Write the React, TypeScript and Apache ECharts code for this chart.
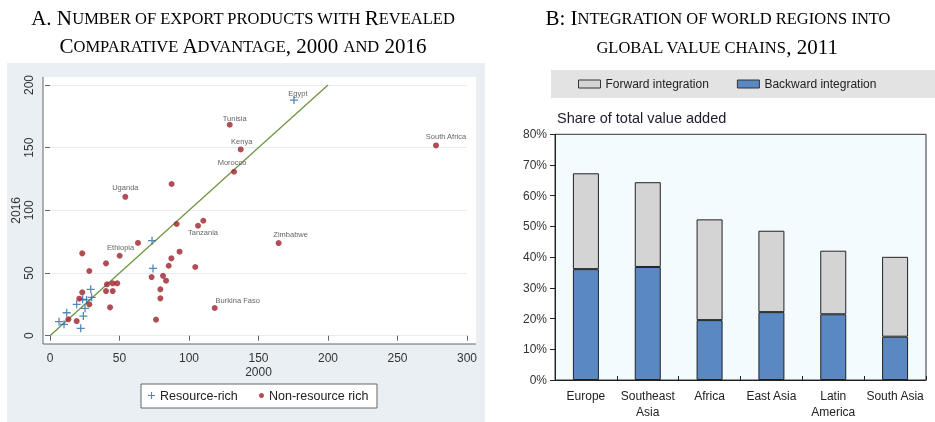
import React, { useEffect, useRef } from "react";
import * as echarts from "echarts";

// ---------- Panel A data: number of export products with RCA (x = 2000, y = 2016) ----------
const resourceRich: [number, number][] = [
  [73.4, 75.8], [74.1, 53.7], [29.3, 37], [30, 30.6], [23.5, 29], [26.3, 28.5],
  [19.2, 25], [25.2, 21.8], [24, 15.7], [12, 18.3], [6.5, 11.2], [10.1, 9.1], [22.1, 5.9],
];
const resourceRichNamed: { name: string; value: [number, number] }[] = [
  { name: "Egypt", value: [175.5, 188] },
];
const nonResourceRich: [number, number][] = [
  [87.5, 121], [91.1, 89.1], [110.3, 91.7], [63.3, 74], [23.2, 65.7], [40.3, 57.7],
  [28.3, 51.6], [93.2, 67], [87.3, 61.7], [85.4, 55.8], [104.5, 54.8], [73.1, 46.8],
  [81.3, 47.8], [83.5, 43.9], [79.4, 37], [79.4, 29.8], [76.3, 12.8], [41, 41],
  [45.1, 41.8], [48.4, 41.8], [40.3, 35.6], [45.1, 35.6], [43.2, 22.6], [23.2, 34.6],
  [21.1, 29.5], [28.3, 25], [19.2, 11.7], [13.2, 13.1],
];
const nonResourceRichNamed: { name: string; value: [number, number] }[] = [
  { name: "Tunisia", value: [129.3, 168.3] },
  { name: "Kenya", value: [137.2, 148.6] },
  { name: "Morocco", value: [132.4, 130.8] },
  { name: "Uganda", value: [54.2, 110.8] },
  { name: "South Africa", value: [277.7, 151.8] },
  { name: "Zimbabwe", value: [164.5, 73.9] },
  { name: "Ethiopia", value: [50.1, 63.8] },
  { name: "Tanzania", value: [106.5, 87.7] },
  { name: "Burkina Faso", value: [118.5, 22.1] },
];
const equalityLine: [number, number][] = [[0, 0], [200, 200]];

// ---------- Panel B data: integration into global value chains, 2011 (% of total value added) ----------
const regions = ["Europe", "Southeast\nAsia", "Africa", "East Asia", "Latin\nAmerica", "South Asia"];
const backwardIntegration = [36.1, 36.8, 19.5, 22.1, 21.4, 14.1];
const forwardIntegration = [31.2, 27.6, 32.8, 26.5, 20.7, 26.0];

// label placement (style only)
const labelPlacement: Record<string, { position: string; offset: [number, number] }> = {
  Egypt: { position: "top", offset: [4, 3.5] },
  Tunisia: { position: "top", offset: [5, 2.5] },
  Kenya: { position: "top", offset: [1, 1.5] },
  Morocco: { position: "top", offset: [-2, 0] },
  Uganda: { position: "top", offset: [0, 0] },
  "South Africa": { position: "top", offset: [10, 0] },
  Zimbabwe: { position: "top", offset: [12, 0] },
  Ethiopia: { position: "top", offset: [1, 1] },
  Tanzania: { position: "bottom", offset: [5, -2] },
  "Burkina Faso": { position: "top", offset: [23, 1.5] },
};

const SANS = "'Liberation Sans', Arial, sans-serif";
const SERIF = "'Liberation Serif', 'DejaVu Serif', serif";
const PLUS = "path://M4.2,0H5.8V4.2H10V5.8H5.8V10H4.2V5.8H0V4.2H4.2Z";
const RED = "#a0202b";
const BLUE = "#2b69a6";

function named(items: { name: string; value: [number, number] }[]) {
  return items.map((d) => ({
    name: d.name,
    value: d.value,
    label: {
      show: true,
      formatter: "{b}",
      position: labelPlacement[d.name]?.position ?? "top",
      offset: labelPlacement[d.name]?.offset ?? [0, 0],
      distance: 2,
      fontSize: 7.5,
      color: "#3a3a3a",
      fontFamily: SANS,
    },
  }));
}

const titleRich = {
  b: { fontFamily: SERIF, fontSize: 21, color: "#3a3a3a" },
  s: { fontFamily: SERIF, fontSize: 16.5, color: "#3a3a3a" },
};

export default function App() {
  const ref = useRef<HTMLDivElement>(null);
  useEffect(() => {
    if (!ref.current) return;
    const chart = echarts.init(ref.current, undefined, { renderer: "svg" });
    chart.setOption({
      animation: false,
      graphic: [
        { type: "rect", z: -10, shape: { x: 7, y: 63, width: 478, height: 359 }, style: { fill: "#e9eff3" } },
        { type: "rect", z: -9, shape: { x: 43, y: 77, width: 433, height: 267 }, style: { fill: "#ffffff" } },
        { type: "line", z: 5, shape: { x1: 43, y1: 77, x2: 43, y2: 344 }, style: { stroke: "#666", lineWidth: 1 } },
        { type: "line", z: 5, shape: { x1: 43, y1: 344, x2: 476, y2: 344 }, style: { stroke: "#666", lineWidth: 1 } },
        { type: "rect", z: 1, shape: { x: 141, y: 384, width: 236, height: 24 }, style: { fill: "#fff", stroke: "#666", lineWidth: 1 } },
        { type: "rect", z: -10, shape: { x: 551, y: 70, width: 384, height: 28 }, style: { fill: "#e3e3e3" } },
        {
          type: "text", x: 243, y: 18,
          style: { text: "{b|A. N}{s|UMBER OF EXPORT PRODUCTS WITH }{b|R}{s|EVEALED}", rich: titleRich, align: "center", verticalAlign: "middle" },
        },
        {
          type: "text", x: 243, y: 46,
          style: { text: "{b|C}{s|OMPARATIVE }{b|A}{s|DVANTAGE}{b|, 2000 }{s|AND}{b| 2016}", rich: titleRich, align: "center", verticalAlign: "middle" },
        },
        {
          type: "text", x: 718, y: 18,
          style: { text: "{b|B: I}{s|NTEGRATION OF WORLD REGIONS INTO}", rich: titleRich, align: "center", verticalAlign: "middle" },
        },
        {
          type: "text", x: 717, y: 47,
          style: { text: "{s|GLOBAL VALUE CHAINS}{b|, 2011}", rich: titleRich, align: "center", verticalAlign: "middle" },
        },
        {
          type: "text", x: 557, y: 118,
          style: { text: "Share of total value added", fontFamily: SANS, fontSize: 14.5, fill: "#1c1c2c", verticalAlign: "middle" },
        },
      ],
      legend: [
        {
          left: 148, top: 389, padding: 0, itemWidth: 7, itemHeight: 7, itemGap: 5,
          data: [{ name: "Resource-rich", icon: PLUS }],
          textStyle: { fontFamily: SANS, fontSize: 12.5, color: "#222" },
        },
        {
          left: 259, top: 389, padding: 0, itemWidth: 5, itemHeight: 5,
          data: [{ name: "Non-resource rich", icon: "circle" }],
          textStyle: { fontFamily: SANS, fontSize: 12.5, color: "#222" },
        },
        {
          left: 578, top: 78, padding: 0, itemWidth: 22, itemHeight: 8, itemGap: 28,
          data: ["Forward integration", "Backward integration"],
          icon: "rect",
          itemStyle: { borderColor: "#333", borderWidth: 1 },
          textStyle: { fontFamily: SANS, fontSize: 12, color: "#222" },
        },
      ],
      grid: [
        { left: 50, top: 85, width: 417, height: 250.7 },
        {
          left: 555, top: 134.3, width: 371, height: 245.7, show: true,
          backgroundColor: "#f3fbfe", borderColor: "#333", borderWidth: 1,
        },
      ],
      xAxis: [
        {
          type: "value", gridIndex: 0, min: 0, max: 300, interval: 50, offset: 8.3,
          axisLine: { show: false },
          axisTick: { show: true, length: 5, lineStyle: { color: "#666" } },
          axisLabel: { fontFamily: SANS, fontSize: 12, lineHeight: 12, color: "#333", margin: 8 },
          splitLine: { show: false },
          name: "2000", nameLocation: "middle", nameGap: 22, nameMoveOverlap: false,
          nameTextStyle: { fontFamily: SANS, fontSize: 12, lineHeight: 12, color: "#333" },
        },
        {
          type: "category", gridIndex: 1, data: regions,
          axisLine: { lineStyle: { color: "#222" } },
          axisTick: { show: true, inside: true, length: 4, alignWithLabel: false, lineStyle: { color: "#222" } },
          axisLabel: { fontFamily: SANS, fontSize: 12, color: "#222", margin: 8, lineHeight: 16, interval: 0 },
        },
      ],
      yAxis: [
        {
          type: "value", gridIndex: 0, min: 0, max: 200, interval: 50, offset: 7,
          axisLine: { show: false },
          axisTick: { show: true, length: 5, lineStyle: { color: "#666" } },
          axisLabel: { fontFamily: SANS, fontSize: 12, color: "#333", margin: 8, rotate: 90 },
          splitLine: { show: true, lineStyle: { color: "#e6eef2", width: 1 } },
          name: "2016", nameLocation: "middle", nameRotate: 90, nameGap: 21, nameMoveOverlap: false,
          nameTextStyle: { fontFamily: SANS, fontSize: 12, color: "#333" },
        },
        {
          type: "value", gridIndex: 1, min: 0, max: 80, interval: 10,
          axisLine: { show: true, lineStyle: { color: "#222" } },
          axisTick: { show: true, length: 5, lineStyle: { color: "#222" } },
          axisLabel: { fontFamily: SANS, fontSize: 12, color: "#333", margin: 8, formatter: "{value}%" },
          splitLine: { show: false },
        },
      ],
      series: [
        {
          type: "line", name: "45-degree line", xAxisIndex: 0, yAxisIndex: 0,
          data: equalityLine, symbol: "none", lineStyle: { color: "#6f9440", width: 1.3 }, z: 1,
        },
        {
          type: "scatter", name: "Resource-rich", xAxisIndex: 0, yAxisIndex: 0,
          symbol: PLUS, symbolSize: 8, itemStyle: { color: BLUE },
          data: [...resourceRich, ...named(resourceRichNamed)], z: 3,
        },
        {
          type: "scatter", name: "Non-resource rich", xAxisIndex: 0, yAxisIndex: 0,
          symbol: "circle", symbolSize: 6, itemStyle: { color: RED },
          data: [...nonResourceRich, ...named(nonResourceRichNamed)], z: 3,
        },
        {
          type: "bar", name: "Backward integration", xAxisIndex: 1, yAxisIndex: 1, stack: "gvc",
          barWidth: 26, data: backwardIntegration,
          itemStyle: { color: "#5a88c3", borderColor: "#222", borderWidth: 1 },
        },
        {
          type: "bar", name: "Forward integration", xAxisIndex: 1, yAxisIndex: 1, stack: "gvc",
          barWidth: 26, data: forwardIntegration,
          itemStyle: { color: "#d4d4d4", borderColor: "#222", borderWidth: 1 },
        },
      ],
    });
    return () => chart.dispose();
  }, []);
  return <div ref={ref} style={{ position: "fixed", left: 0, top: 0, width: 935, height: 422 }} />;
}
